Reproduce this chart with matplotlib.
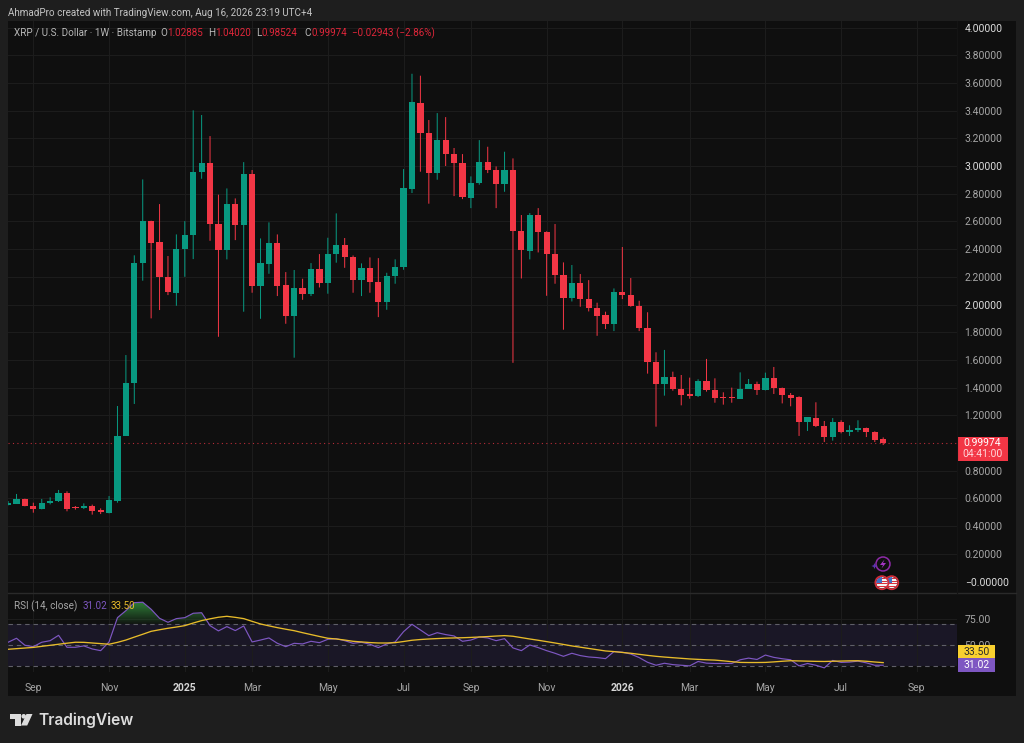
import numpy as np
import matplotlib
matplotlib.use("Agg")
import matplotlib.pyplot as plt
from matplotlib.patches import Rectangle, Circle, Polygon
from matplotlib.path import Path

plt.rcParams['font.family'] = ['Roboto', 'DejaVu Sans']

opens = [0.550,0.560,0.598,0.545,0.523,0.564,0.581,0.639,0.535,0.528,0.545,0.514,0.497,0.584,1.053,1.433,
         2.297,2.603,2.448,2.198,2.085,2.403,2.504,2.956,3.019,2.581,2.391,2.728,2.576,2.942,2.135,2.294,
         2.441,2.138,1.919,2.116,2.075,2.253,2.152,2.367,2.427,2.345,2.179,2.265,2.164,2.015,2.208,2.270,
         2.836,3.452,3.240,2.949,3.187,3.089,3.024,2.771,2.874,3.028,2.971,2.867,2.971,2.528,2.388,2.646,
         2.525,2.362,2.212,2.049,2.152,2.042,1.977,1.921,1.861,2.087,2.068,1.986,1.833,1.587,1.428,1.474,
         1.388,1.351,1.337,1.448,1.383,1.332,1.332,1.320,1.392,1.428,1.385,1.472,1.397,1.347,1.330,1.152,
         1.183,1.120,1.046,1.154,1.082,1.096,1.108,1.082,1.02885]
highs = [0.581,0.632,0.598,0.569,0.596,0.608,0.661,0.651,0.545,0.564,0.555,0.528,0.617,1.267,1.635,2.355,
         2.903,2.605,2.725,2.350,2.506,2.602,3.402,3.368,3.216,2.793,2.838,2.766,3.028,2.971,2.477,2.593,
         2.506,2.234,2.249,2.186,2.299,2.364,2.482,2.658,2.480,2.354,2.297,2.340,2.335,2.229,2.326,2.978,
         3.666,3.652,3.332,3.382,3.353,3.130,3.086,2.925,3.187,3.139,2.997,3.103,3.055,2.646,2.660,2.696,
         2.528,2.581,2.304,2.285,2.220,2.176,2.013,1.948,2.116,2.415,2.191,2.027,1.944,1.655,1.672,1.515,
         1.491,1.472,1.460,1.607,1.467,1.366,1.400,1.510,1.462,1.443,1.508,1.549,1.400,1.361,1.337,1.185,
         1.294,1.159,1.180,1.164,1.128,1.164,1.111,1.084,1.04020]
lows = [0.550,0.560,0.543,0.497,0.521,0.557,0.574,0.507,0.519,0.523,0.483,0.487,0.492,0.569,1.053,1.282,
        2.172,1.900,1.960,2.068,1.991,2.200,2.328,2.908,2.460,1.767,2.326,2.465,1.948,2.085,1.897,2.222,
        2.061,1.861,1.616,2.034,2.061,2.123,2.078,2.302,2.265,2.085,2.061,2.085,1.909,1.962,2.150,2.251,
        2.805,2.959,2.728,2.901,3.000,2.783,2.761,2.696,2.865,2.949,2.696,2.814,1.579,2.188,2.326,2.376,
        2.063,2.150,1.818,2.022,1.984,1.950,1.774,1.823,1.808,2.039,1.984,1.808,1.501,1.118,1.342,1.378,
        1.272,1.320,1.332,1.371,1.291,1.277,1.291,1.320,1.390,1.347,1.380,1.354,1.286,1.265,1.051,1.087,
        1.115,1.007,1.017,1.070,1.051,1.079,1.043,1.007,0.98524]
closes = [0.564,0.596,0.543,0.526,0.567,0.581,0.639,0.526,0.528,0.545,0.511,0.499,0.588,1.050,1.431,2.297,
          2.605,2.446,2.198,2.090,2.398,2.501,2.956,3.021,2.578,2.395,2.728,2.574,2.942,2.135,2.297,2.441,
          2.135,1.919,2.119,2.078,2.253,2.157,2.367,2.429,2.345,2.179,2.265,2.164,2.015,2.208,2.270,2.838,
          3.459,3.240,2.949,3.190,3.089,3.024,2.773,2.874,3.028,2.973,2.867,2.971,2.533,2.391,2.646,2.525,
          2.364,2.212,2.046,2.152,2.042,1.977,1.919,1.861,2.087,2.068,1.986,1.832,1.587,1.428,1.474,1.388,
          1.349,1.339,1.448,1.383,1.325,1.325,1.325,1.392,1.428,1.385,1.472,1.400,1.349,1.327,1.152,1.185,
          1.120,1.046,1.154,1.082,1.096,1.111,1.082,1.024,0.99974]

rsi = [52.9,56.7,50.0,48.7,52.9,54.4,59.5,48.1,48.1,49.4,46.5,44.9,53.2,76.3,83.0,90.6,91.0,84.3,75.7,71.9,75.4,76.3,80.5,81.0,
       68.7,63.7,67.8,64.0,68.4,53.2,55.0,57.0,51.9,48.7,51.9,51.3,53.8,52.5,55.7,56.3,54.4,51.9,52.9,51.0,47.8,51.3,53.2,63.0,
       70.0,64.6,59.2,62.0,60.2,58.9,53.8,55.0,57.9,57.0,54.4,56.3,47.5,44.9,50.3,47.8,44.9,42.4,39.5,42.4,40.2,38.9,38.3,37.3,
       44.0,43.4,41.7,38.3,33.8,31.0,32.9,31.6,31.0,30.4,34.6,33.0,32.7,32.7,32.7,36.2,37.8,36.5,40.7,38.5,37.2,36.2,30.4,32.7,
       31.0,28.5,35.6,33.7,34.0,34.9,33.3,31.0,31.02]
rsi_ma = [46.2,46.8,47.4,48.0,49.0,50.0,51.0,52.0,52.9,52.8,52.2,51.6,51.0,52.8,55.0,57.8,60.5,63.3,64.8,66.2,67.4,68.7,71.2,73.5,
          75.2,76.7,77.6,76.6,75.4,72.8,70.3,68.5,66.8,65.3,63.9,62.0,60.2,58.4,56.7,56.0,55.0,53.8,53.2,52.6,52.2,52.2,52.5,53.6,
          54.8,55.5,56.0,56.4,56.8,57.0,57.2,57.5,57.9,58.3,58.8,59.2,58.6,57.3,56.0,54.8,53.5,52.2,50.8,49.4,48.2,47.0,45.8,44.6,
          44.0,43.2,42.4,41.4,40.4,39.5,38.8,38.2,37.6,37.0,36.6,36.2,35.9,35.2,34.4,33.7,33.6,33.6,33.7,34.2,34.8,35.3,35.1,34.9,
          34.7,34.6,34.8,35.0,35.2,35.3,34.8,34.1,33.5]

price_ticks = [0.0,0.2,0.4,0.6,0.8,1.2,1.4,1.6,1.8,2.0,2.2,2.4,2.6,2.8,3.0,3.2,3.4,3.6,3.8,4.0]
rsi_ticks = [75, 50]
time_pos = [3,12,21,29,38,47,55,64,73,81,90,99,108]
time_labels = ['Sep','Nov','2025','Mar','May','Jul','Sep','Nov','2026','Mar','May','Jul','Sep']
last_close = 0.99974
rsi_last, ma_last = 31.02, 33.50

OUT = '#1e1e1e'; BG = '#0f0f0f'; GRID = '#1c1c1c'
UP = '#089981'; DN = '#f23645'; TXT = '#a6a6a6'
AXFS = 7.5; HDFS = 7.1
W, H = 1024, 743
fig = plt.figure(figsize=(W/100, H/100), dpi=100, facecolor=OUT)

def axrect(x0, y0, x1, y1):
    return [x0/W, 1-y1/H, (x1-x0)/W, (y1-y0)/H]

bgax = fig.add_axes(axrect(8, 21, 1016, 696), facecolor=BG, zorder=0)
bgax.set_xticks([]); bgax.set_yticks([])
for s in bgax.spines.values(): s.set_visible(False)

ax = fig.add_axes(axrect(8, 21, 957, 593.3), facecolor=BG, zorder=1)
ar = fig.add_axes(axrect(8, 593.3, 957, 671.7), facecolor=BG, zorder=1)
xlim = (-0.01, 112.77)

idx = np.arange(len(closes))
o, h, l, c = map(np.array, (opens, highs, lows, closes))
cols = np.where(c >= o, UP, DN)

ax.vlines(idx, l, h, colors=cols, linewidth=0.72, zorder=3)
ax.bar(idx, np.maximum(np.abs(c-o), 0.004), bottom=np.minimum(o, c), width=0.74, color=cols, linewidth=0, zorder=4)
for coll in ax.collections: coll.set_snap(False)
ax.axhline(last_close, color=DN, lw=0.8, ls=(0, (1, 3)), alpha=0.75, zorder=2)
ax.set_xlim(*xlim); ax.set_ylim(-0.0852, 4.047)
ax.set_xticks(time_pos); ax.tick_params(axis='x', length=0, labelbottom=False)
ax.yaxis.tick_right()
ax.set_yticks(price_ticks)
ax.set_yticklabels([('\u2212' if v == 0 else '') + f'{v:.5f}' for v in price_ticks])
ax.tick_params(axis='y', length=0, pad=5.5, labelsize=AXFS, labelcolor=TXT)
for lab, v in zip(ax.get_yticklabels(), price_ticks):
    if v == int(v):
        lab.set_color('#dcdcdc')
ax.grid(True, color=GRID, lw=0.8, zorder=0)

ar.axhspan(30, 70, color='#1a1726', lw=0, zorder=1)
for v in (70, 50, 30):
    ar.axhline(v, color='#5f5f68', lw=0.8, ls=(0, (4, 3.5)), zorder=2)
rsi_a = np.array(rsi, float)
poly = ar.fill_between(idx, 70, rsi_a, where=rsi_a > 70, interpolate=True, facecolor='none', linewidth=0)
clip = Path.make_compound_path(*poly.get_paths())
grad = np.zeros((64, 2, 4))
grad[..., 0] = 0.20; grad[..., 1] = 0.55; grad[..., 2] = 0.24
grad[..., 3] = np.repeat(np.linspace(0.92, 0.06, 64)[:, None], 2, axis=1)
im = ar.imshow(grad, extent=(0, 30, 70, 91), aspect='auto', origin='upper', zorder=2.5)
im.set_clip_path(clip, transform=ar.transData)
ar.plot(idx, rsi, color='#7e57c2', lw=0.85, zorder=3)
ar.plot(idx, rsi_ma, color='#e8bc2a', lw=0.95, zorder=4)
ar.set_xlim(*xlim); ar.set_ylim(24.86, 99.5)
ar.set_xticks(time_pos); ar.set_xticklabels(time_labels)
ar.tick_params(axis='x', length=0, pad=8, labelsize=AXFS, labelcolor=TXT)
for lab, t in zip(ar.get_xticklabels(), time_labels):
    if t.isdigit():
        lab.set_fontweight('bold'); lab.set_color('#d6d6d6')
ar.yaxis.tick_right()
ar.set_yticks(rsi_ticks)
ar.set_yticklabels(['75.00', '50.00'])
ar.tick_params(axis='y', length=0, pad=5.5, labelsize=AXFS, labelcolor=TXT)
ar.grid(True, color=GRID, lw=0.8, zorder=0)
for a in (ax, ar):
    for s in a.spines.values(): s.set_visible(False)

ov = fig.add_axes([0, 0, 1, 1], facecolor='none', zorder=5)
ov.set_xlim(0, W); ov.set_ylim(H, 0); ov.axis('off')
ov.plot([8, 1016], [593.3, 593.3], color='#2a2a2a', lw=1)
ov.plot([957, 957], [21, 593], color='#141414', lw=0.8)

def T(x, y, s, color=TXT, size=HDFS, **kw):
    ov.text(x, y, s, color=color, fontsize=size, va='center', ha=kw.pop('ha', 'left'), **kw)

T(8, 12.5, 'AhmadPro created with TradingView.com, Aug 16, 2026 23:19 UTC+4', color='#c4c4c4', size=7.1)
T(14, 33, 'XRP / U.S. Dollar \u00b7 1W \u00b7 Bitstamp', color='#b8b8b8')
RED = '#e0263a'
T(160.5, 33, 'O', color='#b8b8b8'); T(167.5, 33, '1.02885', color=RED)
T(208, 33, 'H', color='#b8b8b8'); T(215.5, 33, '1.04020', color=RED)
T(256, 33, 'L', color='#b8b8b8'); T(262, 33, '0.98524', color=RED)
T(304, 33, 'C', color='#b8b8b8'); T(311, 33, '0.99974', color=RED)
T(352, 33, '\u22120.02943 (\u22122.86%)', color=RED)
T(14, 606, 'RSI (14, close)', color='#a8a8a8')
T(82.5, 606, f'{rsi_last:.2f}', color='#7e57c2')
T(111, 606, f'{ma_last:.2f}', color='#e8bc2a')

ov.add_patch(Rectangle((957.5, 436.5), 50, 24, color='#f23645', lw=0))
T(982.5, 442.8, f'{last_close:.5f}', color='#ffffff', size=AXFS, ha='center')
T(982.5, 454.3, '04:41:00', color='#ffd6da', size=AXFS, ha='center')
ov.add_patch(Rectangle((958, 645.3), 36.7, 13, color='#f9d02f', lw=0))
T(976.3, 651.8, f'{ma_last:.2f}', color='#2a2a2a', size=AXFS, ha='center')
ov.add_patch(Rectangle((958, 658.3), 36.7, 13.4, color='#7e57c2', lw=0))
T(976.3, 665, f'{rsi_last:.2f}', color='#ffffff', size=AXFS, ha='center')

ov.add_patch(Circle((883, 564), 7, fill=False, ec='#8e2aa8', lw=1.1))
ov.add_patch(Polygon([(884.5, 559.5), (880, 565), (883, 565), (881.5, 568.5), (886, 563), (883, 563)], color='#a535c4', lw=0))
ov.add_patch(Polygon([(874.5, 563), (875.4, 565.2), (877.6, 566), (875.4, 566.9), (874.5, 569), (873.6, 566.9), (871.4, 566), (873.6, 565.2)], color='#5e35b1', lw=0))
for cx in (891.7, 881.9):
    disc = Circle((cx, 582.7), 5.6, fc='#f4f4f4', ec='none')
    ov.add_patch(disc)
    parts = [ov.add_patch(Rectangle((cx-6, 582.7+k), 12, 1.3, color='#d8303c', lw=0)) for k in (-4.8, -2.2, 0.4, 3.0)]
    parts.append(ov.add_patch(Rectangle((cx-6, 577), 6, 5.7, color='#3f6fc4', lw=0)))
    for p in parts: p.set_clip_path(disc)
    ov.add_patch(Circle((cx, 582.7), 6.6, fill=False, ec='#d42c3a', lw=1.2))

LOGO = '#dcdcdc'
ov.add_patch(Polygon([(9.5, 714), (20.5, 714), (20.5, 725.5), (15, 725.5), (15, 718.5), (9.5, 718.5)], color=LOGO, lw=0))
ov.add_patch(Circle((23.7, 716.3), 2.3, color=LOGO, lw=0))
ov.add_patch(Polygon([(26.5, 714), (32.5, 714), (27.2, 725.5), (21, 725.5)], color=LOGO, lw=0))
ov.text(38, 719.8, 'TradingView', color='#dcdcdc', fontsize=11.2, fontweight='semibold', va='center', family=['Inter', 'DejaVu Sans'])

fig.savefig('out.png', dpi=100, facecolor=OUT)
